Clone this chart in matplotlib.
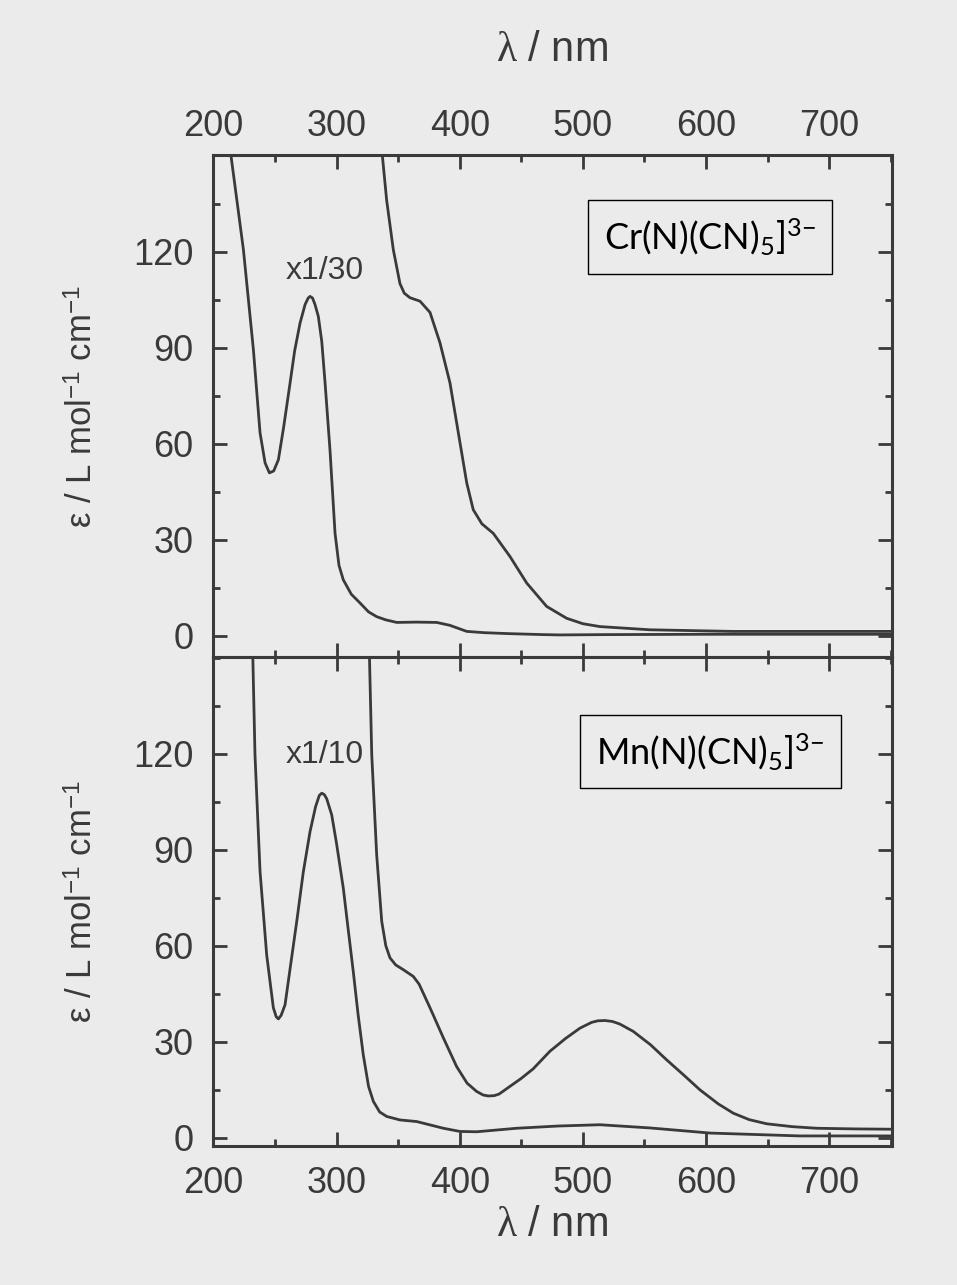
import numpy as np
import matplotlib
matplotlib.use("Agg")
from matplotlib import pyplot as plt
from matplotlib.ticker import MultipleLocator

# Cr(N)(CN)5 3- : UV band (shown x1/30) and visible band
cr_uv_nm = [210, 213.6, 224.4, 232.5, 237.9, 242, 245.5, 249, 252.8, 257, 262.3, 266, 270.4, 274.5,
            277, 278.5, 280.5, 282.5, 285.2, 288, 290.7, 294.7, 298.8, 302, 305.5, 312, 319, 326, 332.6, 340,
            348.9, 365, 381.3, 392, 405.7, 420, 440, 467.6, 481, 520, 600, 680, 750]
cr_uv_eps = [162, 152, 120.6, 89.4, 63.4, 54, 50.9, 51.5, 55, 65, 79, 89, 97.7, 103.5,
             105.5, 106, 105.5, 103.5, 99.8, 92, 79, 58, 32, 22, 17.5, 13, 10.3, 7.5, 6, 5,
             4.2, 4.3, 4.2, 3.3, 1.4, 1.0, 0.7, 0.4, 0.3, 0.4, 0.5, 0.5, 0.5]
cr_vis_nm = [334, 336.7, 340.7, 346.1, 351.5, 355, 359.6, 367.8, 375.9, 384, 392.1, 398.9, 405.7,
             411, 418, 427.3, 440.8, 454.4, 470.6, 486.8, 500, 513.9, 554.5, 622, 750]
cr_vis_eps = [163, 152, 136, 120.6, 110, 107, 105.6, 104.5, 101, 91.5, 79, 63.4, 47.8,
              39.4, 35, 32, 24.8, 16.5, 9.2, 5.5, 3.8, 2.9, 1.9, 1.4, 1.4]

# Mn(N)(CN)5 3- : UV band (shown x1/10) and visible band
mn_uv_nm = [231.5, 232, 233.8, 237.9, 243.3, 248.7, 251, 252.8, 255, 258.2, 262, 267.7, 273, 278.5,
            283, 286, 288, 290, 292, 296.1, 300, 305.5, 309.5, 313.6, 317.5, 321.7, 326, 329.9,
            335, 340.7, 351.5, 365.1, 386.7, 400.2, 413.8, 446.3, 480, 513.9, 554.5, 603.2, 676.1, 750]
mn_uv_eps = [165, 151, 119.7, 83.2, 57.1, 40.6, 37.8, 37.1, 38.2, 41.5, 52, 67.6, 83, 95.7,
             103.5, 107, 107.7, 107.3, 106, 100.9, 92, 78, 65, 51.9, 38.5, 25.9, 16, 11.3,
             8, 6.6, 5.5, 5, 2.9, 1.9, 1.8, 2.9, 3.6, 4.0, 3.0, 1.4, 0.5, 0.5]
mn_vis_nm = [326.3, 326.7, 328.6, 332.6, 336.7, 340, 343.4, 348, 354.2, 362.3, 367, 376, 386.7,
             397.5, 406, 413.8, 419, 423.2, 428, 432, 440.8, 450, 459.7, 473.3, 486, 497.6, 507,
             512, 517.9, 524, 530, 540.9, 555, 568, 582, 595.1, 610, 622.2, 635, 649.2, 670,
             689.8, 720, 750]
mn_vis_eps = [165, 151, 119.7, 88.4, 67.6, 60, 56.2, 54, 52.5, 50.4, 48, 40.5, 31.2,
              22.2, 17, 14.4, 13.3, 13, 13.1, 13.6, 16, 18.5, 21.5, 27, 31, 34.2, 36,
              36.5, 36.6, 36.3, 35.5, 33.2, 29, 24.3, 19.5, 14.9, 10.5, 7.6, 5.6, 4.3, 3.4,
              2.9, 2.7, 2.6]

x_ticks = [200, 300, 400, 500, 600, 700]
y_ticks = [0, 30, 60, 90, 120]

bg = '#ebebeb'
ink = '#3a3a3a'

plt.rcParams['font.family'] = ['Liberation Sans', 'DejaVu Sans']
plt.rcParams['mathtext.fontset'] = 'custom'
plt.rcParams['mathtext.rm'] = 'Liberation Sans'
plt.rcParams['mathtext.it'] = 'Liberation Serif'
plt.rcParams['mathtext.sf'] = 'Lato'

fig = plt.figure(figsize=(9.57, 12.85), dpi=100, facecolor=bg)
ax_top = fig.add_axes([0.2223, 0.4887, 0.7098, 0.3903])
ax_bot = fig.add_axes([0.2223, 0.1078, 0.7098, 0.3809])


def style_axis(ax, ylim):
    ax.set_facecolor(bg)
    ax.set_xlim(199.5, 751)
    ax.set_ylim(*ylim)
    ax.set_xticks(x_ticks)
    ax.set_yticks(y_ticks)
    ax.xaxis.set_minor_locator(MultipleLocator(50))
    ax.yaxis.set_minor_locator(MultipleLocator(15))
    ax.tick_params(which='both', direction='in', top=True, bottom=True, left=True, right=True,
                   color=ink, width=2)
    ax.tick_params(which='major', length=10, labelsize=26, labelcolor=ink, pad=14)
    ax.tick_params(which='minor', length=5)
    for sp in ax.spines.values():
        sp.set_linewidth(2.2)
        sp.set_color(ink)
    ax.set_ylabel(r'ε / L mol$^{-1}$ cm$^{-1}$', fontsize=25, color=ink)
    ax.yaxis.set_label_coords(-0.166, 0.5)


style_axis(ax_top, (-6.6, 150))
style_axis(ax_bot, (-2.8, 150.3))

ax_top.tick_params(axis='x', labeltop=True, labelbottom=False, pad=8)
ax_bot.tick_params(axis='x', labeltop=False, labelbottom=True)

ax_top.xaxis.set_label_position('top')
ax_top.set_xlabel(r'$\lambda$ / nm', fontsize=30, color=ink)
ax_top.xaxis.set_label_coords(0.5, 1.21)
ax_top.xaxis.label.set_va('center')
ax_bot.set_xlabel(r'$\lambda$ / nm', fontsize=30, color=ink)
ax_bot.xaxis.set_label_coords(0.5, -0.16)
ax_bot.xaxis.label.set_va('center')

for ax, nm1, e1, nm2, e2 in [(ax_top, cr_uv_nm, cr_uv_eps, cr_vis_nm, cr_vis_eps),
                             (ax_bot, mn_uv_nm, mn_uv_eps, mn_vis_nm, mn_vis_eps)]:
    ax.plot(nm1, e1, color=ink, lw=2.0, solid_joinstyle='round')
    ax.plot(nm2, e2, color=ink, lw=2.0, solid_joinstyle='round')

ax_top.text(290, 114, 'x1/30', fontsize=23, color=ink, ha='center', va='center')
ax_bot.text(290.5, 119.7, 'x1/10', fontsize=23, color=ink, ha='center', va='center')

box = dict(boxstyle='square,pad=0.45', fc=bg, ec='black', lw=1)
ax_top.text(0.732, 0.8375, r'$\mathsf{Cr(N)(CN)_5]^{3{-}}}$', transform=ax_top.transAxes,
            fontsize=26, ha='center', va='center', color='black', bbox=box)
ax_bot.text(0.733, 0.807, r'$\mathsf{Mn(N)(CN)_5]^{3{-}}}$', transform=ax_bot.transAxes,
            fontsize=26, ha='center', va='center', color='black', bbox=box)

fig.savefig('out.png', dpi=100, facecolor=bg)
